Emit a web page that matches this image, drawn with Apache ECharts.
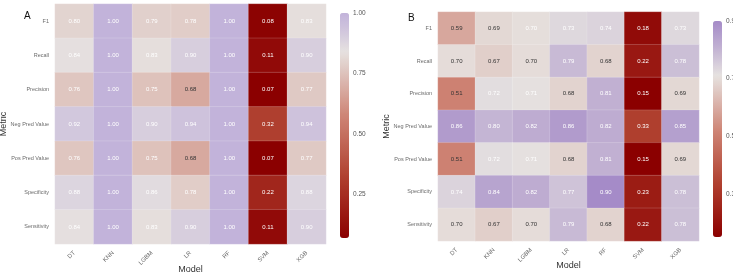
<!DOCTYPE html>
<html>
<head>
<meta charset="utf-8">
<script src="https://cdn.jsdelivr.net/npm/echarts@6/dist/echarts.min.js"></script>
<style>
html, body { margin: 0; padding: 0; background: #fff; }
#main { width: 733px; height: 273px; }
</style>
</head>
<body>
<div id="main"></div>
<script>
// 两个热图: A / B
var models = ['DT', 'KNN', 'LGBM', 'LR', 'RF', 'SVM', 'XGB'];
var metrics = ['F1', 'Recall', 'Precision', 'Neg Pred Value', 'Pos Pred Value', 'Specificity', 'Sensitivity'];

// 每行对应一个 metric, 每列对应一个 model
var valuesA = [
    [0.80, 1.00, 0.79, 0.78, 1.00, 0.08, 0.83],
    [0.84, 1.00, 0.83, 0.90, 1.00, 0.11, 0.90],
    [0.76, 1.00, 0.75, 0.68, 1.00, 0.07, 0.77],
    [0.92, 1.00, 0.90, 0.94, 1.00, 0.32, 0.94],
    [0.76, 1.00, 0.75, 0.68, 1.00, 0.07, 0.77],
    [0.88, 1.00, 0.86, 0.78, 1.00, 0.22, 0.88],
    [0.84, 1.00, 0.83, 0.90, 1.00, 0.11, 0.90]
];
var valuesB = [
    [0.59, 0.69, 0.702, 0.73, 0.74, 0.18, 0.73],
    [0.698, 0.67, 0.698, 0.79, 0.68, 0.22, 0.78],
    [0.51, 0.72, 0.71, 0.68, 0.81, 0.15, 0.69],
    [0.86, 0.80, 0.82, 0.86, 0.82, 0.33, 0.85],
    [0.51, 0.72, 0.71, 0.68, 0.81, 0.15, 0.69],
    [0.74, 0.84, 0.82, 0.77, 0.90, 0.23, 0.78],
    [0.698, 0.67, 0.698, 0.79, 0.68, 0.22, 0.78]
];
var legendTicksA = [0.25, 0.50, 0.75, 1.00];
var legendTicksB = [0.3, 0.5, 0.7, 0.9];

var font = 'Liberation Sans, Arial, sans-serif';

function hexToRgb(h) {
    return [parseInt(h.substr(1, 2), 16), parseInt(h.substr(3, 2), 16), parseInt(h.substr(5, 2), 16)];
}
function toHex(c) {
    return '#' + c.map(function (x) { return ('0' + Math.round(x).toString(16)).slice(-2); }).join('');
}
function mixRgb(stops, t) {
    for (var i = 1; i < stops.length; i++) {
        if (t <= stops[i][0] || i == stops.length - 1) {
            var a = stops[i - 1], b = stops[i];
            var f = (t - a[0]) / (b[0] - a[0]);
            f = Math.max(0, Math.min(1, f));
            var ca = hexToRgb(a[1]), cb = hexToRgb(b[1]);
            return [0, 1, 2].map(function (k) { return ca[k] + (cb[k] - ca[k]) * f; });
        }
    }
}
// 类似 scale_fill_gradient2 的三色渐变
function ramp(min, mid, max, high) {
    var m = (mid - min) / (max - min);
    var midHigh = toHex(mixRgb([[0, '#E6E2E0'], [1, high]], 0.55));
    var stops = [
        [0, '#8B0000'],
        [m * 0.33, '#B0402F'],
        [m * 0.66, '#CE8576'],
        [m, '#E6E2E0'],
        [m + (1 - m) * 0.5, midHigh],
        [1, high]
    ];
    var out = [];
    for (var i = 0; i <= 60; i++) out.push(toHex(mixRgb(stops, i / 60)));
    return out;
}

function cells(vals) {
    var d = [];
    vals.forEach(function (row, yi) {
        row.forEach(function (v, xi) {
            d.push({
                value: [xi, yi, v],
                label: { color: (v > 0.4 && v < 0.7) ? '#333333' : '#ffffff' }
            });
        });
    });
    return d;
}

function minOf(vals) { return Math.min.apply(null, [].concat.apply([], vals)); }
function maxOf(vals) { return Math.max.apply(null, [].concat.apply([], vals)); }

var minA = minOf(valuesA), maxA = maxOf(valuesA);
var minB = minOf(valuesB), maxB = maxOf(valuesB);

var panels = [
    { grid: { left: 55, top: 4, width: 271, height: 240, outerBoundsMode: 'none', containLabel: false },
      leg: { left: 340, top: 13, width: 9, height: 225, outerBoundsMode: 'none', containLabel: false } },
    { grid: { left: 438, top: 12, width: 261, height: 229, outerBoundsMode: 'none', containLabel: false },
      leg: { left: 713, top: 21, width: 9, height: 216, outerBoundsMode: 'none', containLabel: false } }
];

function xAxisFor(gi) {
    return {
        type: 'category', gridIndex: gi, data: models,
        axisLine: { show: false }, axisTick: { show: false }, splitLine: { show: false },
        axisLabel: { rotate: 45, fontSize: 6, color: '#6b6b6b', fontFamily: font, margin: 8 },
        name: 'Model', nameLocation: 'middle', nameGap: gi == 0 ? 21 : 20, nameMoveOverlap: false,
        nameTextStyle: { fontSize: 9, color: '#333', fontFamily: font }
    };
}
function yAxisFor(gi) {
    return {
        type: 'category', gridIndex: gi, data: metrics, inverse: true,
        axisLine: { show: false }, axisTick: { show: false }, splitLine: { show: false },
        axisLabel: { fontSize: 5.5, color: '#6b6b6b', fontFamily: font, margin: 6 },
        name: 'Metric', nameLocation: 'middle', nameGap: 47, nameMoveOverlap: false,
        nameTextStyle: { fontSize: 9, color: '#333', fontFamily: font }
    };
}
function legendAxis(gi, min, max, ticks) {
    return {
        type: 'value', gridIndex: gi, min: min, max: max, position: 'right',
        axisLine: { show: false }, splitLine: { show: false },
        axisTick: { show: false },
        axisLabel: {
            customValues: ticks, fontSize: 6.5, color: '#555', fontFamily: font, margin: 4,
            formatter: function (v) { return gi == 2 ? v.toFixed(2) : v.toFixed(1); }
        }
    };
}
function legendX(gi) {
    return { type: 'value', gridIndex: gi, show: false };
}

var seriesLabel = { show: true, fontSize: 6, fontFamily: font, formatter: function (p) { return p.value[2].toFixed(2); } };

var myChart = echarts.init(document.getElementById('main'), null, { renderer: 'canvas' });

var option = {
    backgroundColor: '#ffffff',
    animation: false,
    title: [
        { text: 'A', left: 19, top: 6, textStyle: { fontSize: 10, fontWeight: 'normal', color: '#111', fontFamily: font } },
        { text: 'B', left: 403, top: 8, textStyle: { fontSize: 10, fontWeight: 'normal', color: '#111', fontFamily: font } }
    ],
    grid: [panels[0].grid, panels[1].grid, panels[0].leg, panels[1].leg],
    xAxis: [xAxisFor(0), xAxisFor(1), legendX(2), legendX(3)],
    yAxis: [yAxisFor(0), yAxisFor(1), legendAxis(2, minA, maxA, legendTicksA), legendAxis(3, minB, maxB, legendTicksB)],
    visualMap: [
        {
            type: 'continuous', seriesIndex: 0, min: minA, max: maxA, calculable: false,
            left: 340, top: 13, itemWidth: 9, itemHeight: 225, padding: 0, text: null, showLabel: false,
            inRange: { color: ramp(minA, 0.84, maxA, '#C2B3DA') }
        },
        {
            type: 'continuous', seriesIndex: 1, min: minB, max: maxB, calculable: false,
            left: 713, top: 21, itemWidth: 9, itemHeight: 216, padding: 0, text: null, showLabel: false,
            inRange: { color: ramp(minB, 0.71, maxB, '#A58BC8') }
        }
    ],
    series: [
        {
            type: 'heatmap', xAxisIndex: 0, yAxisIndex: 0, data: cells(valuesA),
            label: seriesLabel, itemStyle: { borderColor: 'rgba(255,255,255,0.35)', borderWidth: 0.5 }
        },
        {
            type: 'heatmap', xAxisIndex: 1, yAxisIndex: 1, data: cells(valuesB),
            label: seriesLabel, itemStyle: { borderColor: 'rgba(255,255,255,0.35)', borderWidth: 0.5 }
        }
    ]
};

myChart.setOption(option);

window.addEventListener("resize", function () {
    myChart.resize();
});
</script>
</body>
</html>
